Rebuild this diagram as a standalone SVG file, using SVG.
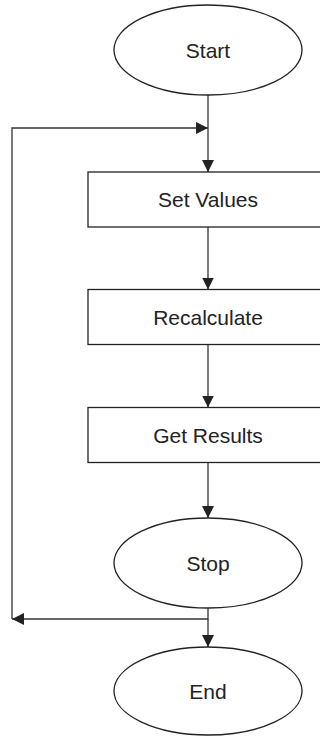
<svg xmlns="http://www.w3.org/2000/svg" width="320" height="736" viewBox="0 0 320 736">
<defs>
<style>
.shape{fill:#fff;stroke:#222;stroke-width:1.3}
.lbl{font-family:"Liberation Sans",Arial,sans-serif;font-size:21px;fill:#222;text-anchor:middle}
.con{fill:none;stroke:#333;stroke-width:1.3}
</style>
<marker id="ah" markerUnits="userSpaceOnUse" markerWidth="12" markerHeight="12" refX="12" refY="6" orient="auto">
<path d="M0,0 L12,6 L0,12 z" fill="#222"/>
</marker>
</defs>
<rect width="320" height="736" fill="#fff"/>
<g id="connectors">
<path class="con" d="M208,95 V172" marker-end="url(#ah)"/>
<path class="con" d="M12,619 V128 H208" marker-end="url(#ah)"/>
<path class="con" d="M208,608 V619 H12" marker-end="url(#ah)"/>
<path class="con" d="M208,227 V289.5" marker-end="url(#ah)"/>
<path class="con" d="M208,344.5 V407.5" marker-end="url(#ah)"/>
<path class="con" d="M208,462.5 V518" marker-end="url(#ah)"/>
<path class="con" d="M208,619 V647" marker-end="url(#ah)"/>
</g>
<g id="start">
<ellipse class="shape" cx="208" cy="50" rx="94" ry="45"/>
<text class="lbl" x="208" y="57.5">Start</text>
</g>
<g id="set-values">
<rect class="shape" x="88" y="172" width="240" height="55"/>
<text class="lbl" x="208" y="207">Set Values</text>
</g>
<g id="recalculate">
<rect class="shape" x="88" y="289.5" width="240" height="55"/>
<text class="lbl" x="208" y="324.5">Recalculate</text>
</g>
<g id="get-results">
<rect class="shape" x="88" y="407.5" width="240" height="55"/>
<text class="lbl" x="208" y="442.5">Get Results</text>
</g>
<g id="stop">
<ellipse class="shape" cx="208" cy="563" rx="94" ry="45"/>
<text class="lbl" x="208" y="570.5">Stop</text>
</g>
<g id="end">
<ellipse class="shape" cx="208" cy="691" rx="94" ry="44"/>
<text class="lbl" x="208" y="698.5">End</text>
</g>
</svg>
